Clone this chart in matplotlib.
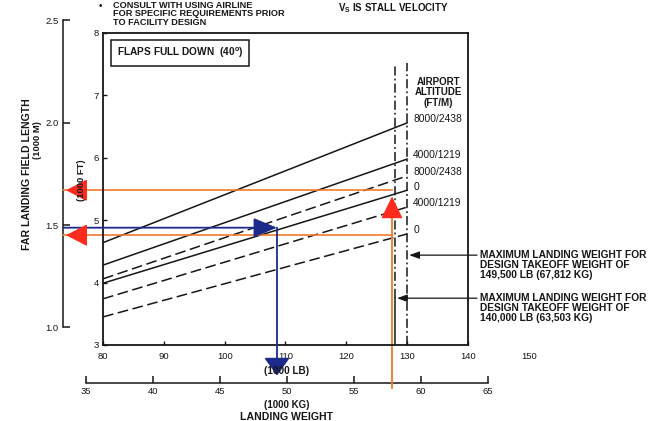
import matplotlib.pyplot as plt

plt.rcParams['font.family'] = ['Liberation Sans', 'DejaVu Sans']

LB_PER_KG = 2.20462
FT_PER_M = 3.28084

# landing weight (1000 LB) at the two ends of each curve
weight_ends = [80, 130]
# far landing field length (1000 FT) at those weights
solid_8000 = [4.64, 6.56]
solid_4000 = [4.28, 5.98]
solid_0 = [3.99, 5.48]
dashed_8000 = [4.06, 5.71]
dashed_4000 = [3.74, 5.21]
dashed_0 = [3.45, 4.78]
curve_labels = ['8000/2438', '4000/1219', '0', '8000/2438', '4000/1219', '0']

# worked examples
blue_weight = 108.6
blue_length = 4.88
orange_weight = 127.5
orange_upper = 5.48
orange_lower = 4.76
orange_tip = 5.38

# maximum landing weight (1000 LB) and where the note arrows hit
mlw_weights = [130, 128]
mlw_arrow_at = [4.44, 3.75]
mlw_notes = ['MAXIMUM LANDING WEIGHT FOR\nDESIGN TAKEOFF WEIGHT OF\n149,500 LB (67,812 KG)',
             'MAXIMUM LANDING WEIGHT FOR\nDESIGN TAKEOFF WEIGHT OF\n140,000 LB (63,503 KG)']

lb_ticks = [80, 90, 100, 110, 120, 130, 140]
ft_ticks = [3, 4, 5, 6, 7, 8]
kg_ticks = [35, 40, 45, 50, 55, 60, 65]
km_ticks = [1.0, 1.5, 2.0, 2.5]

W, H = 655, 421
blue = '#1c2a8c'
orange = '#f07a2c'
red = '#ff2b1c'
ink = '#161616'


def fx(p):
    return p / W


def fy(q):
    return 1 - q / H


def klb_at(p):
    return 80 + (p - 103) * 60 / 365


def kft_at(q):
    return 3 + (345 - q) * 5 / 312


fig = plt.figure(figsize=(W / 100, H / 100), dpi=100)

# outer scales (1000 KG / 1000 M)
ax2 = fig.add_axes([fx(63), fy(383), fx(500) - fx(63), fy(10) - fy(383)])
ax2.set_zorder(0)
ax2.set_facecolor('none')
ax2.set_xlim(klb_at(63) / LB_PER_KG, klb_at(500) / LB_PER_KG)
ax2.set_ylim(kft_at(383) / FT_PER_M, kft_at(10) / FT_PER_M)
for s in ['top', 'right']:
    ax2.spines[s].set_visible(False)
ax2.spines['left'].set_bounds(1.0, 2.5)
ax2.spines['bottom'].set_bounds(35, 65)
for s in ['left', 'bottom']:
    ax2.spines[s].set_linewidth(1.1)
    ax2.spines[s].set_color(ink)
ax2.set_xticks(kg_ticks)
ax2.set_yticks(km_ticks)
ax2.set_yticklabels(['%.1f' % v for v in km_ticks])
ax2.tick_params(direction='in', length=5, width=1.1, labelsize=6.8, colors=ink, pad=3)

# inner chart (1000 LB / 1000 FT)
ax = fig.add_axes([fx(103), fy(345), fx(468) - fx(103), fy(33) - fy(345)])
ax.set_zorder(1)
ax.set_xlim(80, 140)
ax.set_ylim(3, 8)
for s in ax.spines.values():
    s.set_linewidth(1.3)
    s.set_color(ink)
ax.set_xticks(lb_ticks)
ax.set_yticks(ft_ticks)
ax.tick_params(direction='in', length=3, width=1, labelsize=6.8, colors=ink, pad=5)
ax.tick_params(axis='y', pad=3)
ax.annotate('150', xy=(150, 0), xycoords=('data', 'axes fraction'), xytext=(0, -5),
            textcoords='offset points', ha='center', va='top', fontsize=6.8, color=ink,
            annotation_clip=False)

curves = [solid_8000, solid_4000, solid_0, dashed_8000, dashed_4000, dashed_0]
styles = ['-', '-', '-', (0, (7, 3)), (0, (7, 3)), (0, (7, 3))]
for vals, ls, lab in zip(curves, styles, curve_labels):
    ax.plot(weight_ends, vals, color=ink, lw=1.1, ls=ls)
    ax.text(131, vals[1] + 0.06, lab, fontsize=7.4, color=ink, ha='left', va='center')

ax.text(135.1, 7.05, 'AIRPORT\nALTITUDE\n(FT/M)', fontsize=7, fontweight='bold', color=ink,
        ha='center', va='center', linespacing=1.05)

# maximum landing weight verticals
ax.plot([mlw_weights[0]] * 2, [3, 7.52], color=ink, lw=1.1, ls=(0, (6, 2, 1.2, 2)))
ax.plot([mlw_weights[1]] * 2, [mlw_arrow_at[1], 7.48], color=ink, lw=1.1, ls=(0, (6, 2, 1.2, 2)))
ax.plot([mlw_weights[1]] * 2, [3, mlw_arrow_at[1]], color=ink, lw=1.1)
for w, y, note in zip(mlw_weights, mlw_arrow_at, mlw_notes):
    ax.annotate('', xy=(w, y), xytext=(klb_at(477), y),
                arrowprops=dict(arrowstyle='-|>,head_length=0.6,head_width=0.22', color=ink,
                                lw=0.9, shrinkA=0, shrinkB=1.5, mutation_scale=10),
                annotation_clip=False)
    ax.text(klb_at(480), y + 0.09, note, fontsize=7.4, fontweight='bold', color=ink,
            ha='left', va='top', linespacing=1.0, clip_on=False)

ax.text((117 - 103) / 365, (345 - 53) / 312, 'FLAPS FULL DOWN  (40$\\mathregular{^o}$)',
        transform=ax.transAxes, fontsize=7.3, fontweight='bold', color=ink, ha='left', va='center',
        bbox=dict(boxstyle='square,pad=0.55', fc='white', ec=ink, lw=1.1))

left_klb = ax2.get_xlim()[0] * LB_PER_KG
bottom_kft = ax2.get_ylim()[0] * FT_PER_M

# blue example path
ax.annotate('', xy=(blue_weight, blue_length), xytext=(left_klb, blue_length),
            arrowprops=dict(arrowstyle='-|>,head_length=1.45,head_width=0.6', color=blue, lw=1.3,
                            shrinkA=0, shrinkB=0, mutation_scale=10), annotation_clip=False)
ax.annotate('', xy=(blue_weight, bottom_kft + 0.12), xytext=(blue_weight, blue_length),
            arrowprops=dict(arrowstyle='-|>,head_length=1.1,head_width=0.8', color=blue, lw=1.3,
                            shrinkA=0, shrinkB=0, mutation_scale=10), annotation_clip=False)

# orange example path
ax.plot([left_klb, orange_weight], [orange_upper] * 2, color=orange, lw=1.2, clip_on=False)
ax.plot([left_klb, orange_weight], [orange_lower] * 2, color=orange, lw=1.2, clip_on=False)
ax.plot([orange_weight] * 2, [bottom_kft - 0.08, orange_tip - 0.2], color=orange, lw=1.3,
        clip_on=False)
for y in [orange_upper, orange_lower]:
    ax.annotate('', xy=(left_klb + 0.5, y), xytext=(14, 0), textcoords='offset points',
                arrowprops=dict(arrowstyle='-|>,head_length=1.35,head_width=0.7', color=red,
                                lw=1, shrinkA=0, shrinkB=0, mutation_scale=10),
                annotation_clip=False)
ax.annotate('', xy=(orange_weight, orange_tip), xytext=(0, -14), textcoords='offset points',
            arrowprops=dict(arrowstyle='-|>,head_length=1.4,head_width=0.68', color=red,
                            lw=1, shrinkA=0, shrinkB=0, mutation_scale=10),
            annotation_clip=False)

# axis titles and notes
fig.text(fx(27), fy(174), 'FAR LANDING FIELD LENGTH', rotation=90, fontsize=7.6,
         fontweight='bold', color=ink, ha='center', va='center')
fig.text(fx(38), fy(140), '(1000 M)', rotation=90, fontsize=6.8, fontweight='bold', color=ink,
         ha='center', va='center')
fig.text(fx(81), fy(180), '(1000 FT)', rotation=90, fontsize=6.8, fontweight='bold', color=ink,
         ha='center', va='center')
fig.text(fx(287), fy(371), '(1000 LB)', fontsize=7.2, fontweight='bold', color=ink,
         ha='center', va='center')
fig.text(fx(287), fy(405), '(1000 KG)', fontsize=7, fontweight='bold', color=ink,
         ha='center', va='center')
fig.text(fx(287), fy(417), 'LANDING WEIGHT', fontsize=7.6, fontweight='bold', color=ink,
         ha='center', va='center')

fig.text(fx(100), fy(1), '\u2022', fontsize=7, color=ink, ha='center', va='top')
fig.text(fx(113), fy(0.5),
         'CONSULT WITH USING AIRLINE\nFOR SPECIFIC REQUIREMENTS PRIOR\nTO FACILITY DESIGN',
         fontsize=6.6, fontweight='bold', color=ink, ha='left', va='top', linespacing=0.95)
fig.text(fx(338), fy(1), '$\\mathregular{V_S}$ IS STALL VELOCITY', fontsize=7,
         fontweight='bold', color=ink, ha='left', va='top')

fig.savefig('out.png', dpi=100, facecolor='white')
